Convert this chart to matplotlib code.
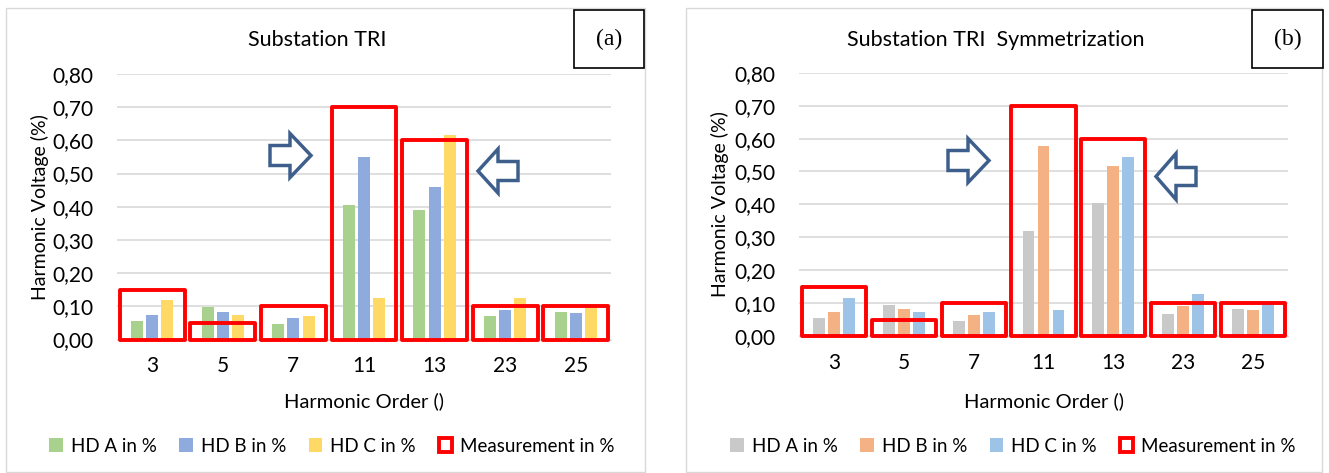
"""
Harmonic voltage per order at substation TRI, before and after symmetrization.
"""

import numpy as np
import matplotlib.pyplot as plt
from matplotlib.patches import Patch, Polygon, Rectangle

orders = ["3", "5", "7", "11", "13", "23", "25"]
measurement = [0.15, 0.05, 0.10, 0.70, 0.60, 0.10, 0.10]

# substation TRI
tri_a = [0.055, 0.097, 0.048, 0.405, 0.390, 0.070, 0.083]
tri_b = [0.075, 0.083, 0.065, 0.550, 0.460, 0.090, 0.080]
tri_c = [0.118, 0.075, 0.072, 0.125, 0.615, 0.125, 0.097]

# substation TRI with symmetrization
sym_a = [0.055, 0.095, 0.045, 0.320, 0.405, 0.068, 0.083]
sym_b = [0.073, 0.082, 0.065, 0.578, 0.518, 0.090, 0.078]
sym_c = [0.117, 0.073, 0.072, 0.078, 0.543, 0.128, 0.097]

series_labels = ["HD A in %", "HD B in %", "HD C in %"]
yticks = [0.0, 0.1, 0.2, 0.3, 0.4, 0.5, 0.6, 0.7, 0.8]

FONT = "Lato"
W, H = 1329, 473


def fx(px):
    return px / W


def fy(py):
    return 1 - py / H


def block_arrow(fig, x_tail, x_tip, x_base, yc, shaft, head, color="#3E5F8C"):
    pts = [(x_tail, yc - shaft), (x_base, yc - shaft), (x_base, yc - head),
           (x_tip, yc), (x_base, yc + head), (x_base, yc + shaft),
           (x_tail, yc + shaft)]
    pts = [(fx(x), fy(y)) for x, y in pts]
    fig.patches.append(Polygon(pts, closed=True, transform=fig.transFigure,
                               facecolor="white", edgecolor=color, lw=2.5,
                               joinstyle="miter"))


def panel(fig, frame, rect, title, tag, tag_box, series, colors, legend_x, ylabel_x):
    # outer frame of the chart
    fx0, fy0, fx1, fy1 = frame
    fig.patches.append(Rectangle((fx(fx0), fy(fy1)), fx(fx1 - fx0), (fy1 - fy0) / H,
                                 transform=fig.transFigure, fill=False,
                                 edgecolor="#D9D9D9", lw=1.0))

    ax = fig.add_axes(rect)
    x = np.arange(len(orders))
    width, step = 0.17, 0.215
    for i, (vals, col) in enumerate(zip(series, colors)):
        ax.bar(x + (i - 1) * step, vals, width, color=col, zorder=2)
    ax.bar(x, measurement, 0.92, fill=False, edgecolor="#FF0000", lw=2.8,
           joinstyle="round", zorder=3, clip_on=False)

    ax.set_xlim(-0.5, len(orders) - 0.5)
    ax.set_ylim(0, 0.8)
    ax.set_yticks(yticks)
    ax.set_yticklabels([f"{v:.2f}".replace(".", ",") for v in yticks],
                       fontsize=15, family=FONT)
    ax.set_xticks(x)
    ax.set_xticklabels(orders, fontsize=15, family=FONT)
    ax.tick_params(axis="y", length=0, pad=17)
    ax.tick_params(axis="x", length=0, pad=12)
    ax.grid(axis="y", color="#D9D9D9", lw=1.2, zorder=0)
    ax.set_axisbelow(True)
    for s in ["top", "right", "left"]:
        ax.spines[s].set_visible(False)
    ax.spines["bottom"].set_color("#D9D9D9")

    l, b, w, h = rect
    fig.text(fx((fx0 + fx1) / 2) - fx(8), fy(40), title, ha="center", va="center",
             fontsize=15.5, family=FONT)
    fig.text(l + w / 2, fy(401), "Harmonic Order ()", ha="center", va="center",
             fontsize=14.5, family=FONT)
    fig.text(fx(ylabel_x), b + h / 2, "Harmonic Voltage (%)", rotation=90,
             ha="center", va="center", fontsize=14, family=FONT)

    bx0, by0, bx1, by1 = tag_box
    fig.patches.append(Rectangle((fx(bx0), fy(by1)), fx(bx1 - bx0), (by1 - by0) / H,
                                 transform=fig.transFigure, facecolor="white",
                                 edgecolor="black", lw=1.2))
    fig.text(fx((bx0 + bx1) / 2), fy((by0 + by1) / 2), tag, ha="center",
             va="center", fontsize=17, family="Liberation Serif")

    handles = [Patch(facecolor=c) for c in colors]
    handles.append(Patch(facecolor="white", edgecolor="#FF0000", lw=2.8))
    fig.legend(handles, series_labels + ["Measurement in %"],
               loc="center", bbox_to_anchor=(fx(legend_x), fy(446)), ncol=4,
               frameon=False, prop={"family": FONT, "size": 13.5},
               handlelength=0.7, handleheight=0.7, handletextpad=0.45,
               columnspacing=1.2)
    return ax


fig = plt.figure(figsize=(W / 100, H / 100), dpi=100)

panel(fig, (6, 8, 645, 472), [fx(117), fy(339.5), fx(611 - 117), (339.5 - 74) / H],
      "Substation TRI", "(a)", (574, 10, 644, 68),
      [tri_a, tri_b, tri_c], ["#A9D18E", "#8FAADC", "#FFD966"], 332, 40)
panel(fig, (686, 8, 1322, 472), [fx(799), fy(336), fx(1288 - 799), (336 - 72.8) / H],
      "Substation TRI  Symmetrization", "(b)", (1252, 10, 1323, 68),
      [sym_a, sym_b, sym_c], ["#C9C9C9", "#F4B183", "#9DC3E6"], 1013, 720)

# arrows pointing at the 11th and 13th harmonic
block_arrow(fig, 270, 311, 290, 155.5, 10, 22)
block_arrow(fig, 518, 478, 498, 171, 9.5, 22)
block_arrow(fig, 948, 989, 968, 160.5, 10, 22)
block_arrow(fig, 1196, 1156, 1176, 176.5, 9, 23)

fig.savefig("out.png", dpi=100)
